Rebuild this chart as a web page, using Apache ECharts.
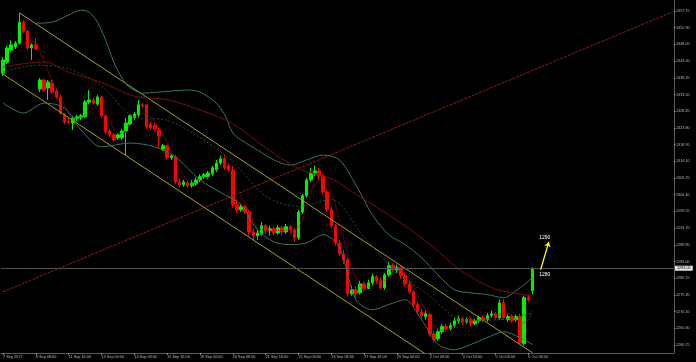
<!DOCTYPE html>
<html><head><meta charset="utf-8">
<script src="https://cdn.jsdelivr.net/npm/echarts@6/dist/echarts.min.js"></script>
<style>html,body{margin:0;padding:0;background:#000;overflow:hidden}#c{width:696px;height:362px}</style>
</head><body><div id="c"></div>
<script>
// ---- data (XAUUSD H4) ----
const candleOpen = [1339.7,1342.9,1346.4,1347.3,1348.4,1354.5,1351.9,1347.0,1347.9,1335.1,
1337.7,1335.4,1336.8,1334.5,1332.8,1327.6,1325.8,1325.2,1326.4,1326.7,
1327.0,1331.3,1331.9,1330.7,1332.8,1327.3,1322.9,1321.8,1320.9,1320.9,
1322.9,1324.9,1326.7,1327.6,1330.5,1330.5,1324.9,1324.6,1323.2,1317.7,
1318.6,1315.1,1315.4,1308.1,1307.3,1307.8,1307.0,1307.5,1308.7,1309.6,
1309.6,1310.4,1311.6,1313.6,1314.8,1312.8,1311.6,1301.5,1300.0,1300.9,
1299.4,1293.6,1292.5,1293.0,1295.4,1293.9,1294.5,1293.3,1294.8,1293.6,
1295.1,1294.2,1291.9,1299.4,1304.1,1308.7,1310.7,1311.3,1309.9,1305.2,
1300.0,1295.4,1290.4,1287.2,1285.5,1275.6,1276.8,1275.9,1278.5,1277.1,
1278.8,1280.6,1279.4,1277.4,1281.1,1283.8,1282.6,1283.2,1280.9,1278.5,
1276.2,1272.5,1270.4,1269.0,1269.6,1264.0,1262.6,1264.6,1266.1,1265.5,
1266.4,1267.8,1268.4,1267.5,1268.1,1266.9,1267.8,1268.7,1268.1,1269.3,
1269.8,1268.7,1273.0,1268.1,1269.0,1268.1,1269.0,1261.1,1274.5,1276.5];
const candleClose = [1343.5,1347.0,1347.9,1348.4,1354.5,1351.9,1347.0,1347.9,1346.7,1337.7,
1334.8,1337.1,1334.2,1332.8,1328.1,1325.5,1325.5,1326.7,1327.0,1327.3,
1331.3,1331.9,1331.0,1332.8,1327.3,1322.6,1321.8,1320.3,1321.8,1322.9,
1325.2,1327.3,1327.8,1330.5,1330.2,1324.1,1323.8,1323.5,1321.5,1318.6,
1315.1,1315.7,1308.1,1307.3,1308.1,1307.0,1307.8,1308.7,1309.6,1310.2,
1310.7,1312.2,1313.6,1314.8,1312.2,1311.6,1301.5,1300.0,1300.9,1299.4,
1293.6,1292.5,1293.3,1295.4,1293.9,1294.5,1293.3,1294.8,1293.6,1295.1,
1294.2,1291.9,1299.4,1304.1,1308.7,1310.7,1311.3,1309.9,1305.2,1300.0,
1295.4,1290.4,1287.2,1285.5,1275.6,1276.8,1275.6,1278.5,1277.1,1278.8,
1280.6,1279.4,1277.4,1281.1,1283.8,1282.6,1283.2,1280.9,1278.5,1276.2,
1272.5,1270.4,1269.3,1269.8,1264.0,1262.3,1264.6,1266.1,1265.5,1266.4,
1267.8,1268.4,1267.5,1268.1,1266.9,1267.8,1268.7,1268.1,1269.3,1269.8,
1268.7,1273.0,1268.7,1269.0,1267.8,1269.0,1261.4,1274.5,1273.9,1283.05];
const candleLow = [1338.9,1342.3,1345.8,1346.7,1348.1,1351.3,1346.4,1343.5,1346.4,1334.2,
1334.2,1331.9,1333.6,1332.2,1327.6,1324.9,1324.9,1323.2,1325.8,1326.1,
1326.7,1330.7,1330.5,1330.2,1326.7,1322.0,1321.2,1319.7,1320.3,1320.3,
1315.9,1324.4,1326.1,1327.0,1329.6,1323.5,1323.2,1322.9,1318.0,1317.1,
1314.5,1314.5,1307.5,1306.4,1306.7,1306.4,1306.4,1307.0,1308.1,1309.0,
1309.0,1309.9,1311.0,1313.0,1311.6,1311.0,1300.6,1299.1,1299.4,1298.8,
1292.5,1291.3,1291.3,1292.5,1293.0,1292.5,1292.5,1292.8,1292.5,1293.0,
1293.3,1290.7,1291.3,1298.8,1303.5,1308.1,1309.9,1308.7,1304.4,1299.4,
1294.8,1289.6,1286.7,1284.3,1274.8,1275.1,1274.8,1275.4,1276.2,1277.0,
1278.0,1278.5,1276.8,1276.8,1280.6,1282.0,1281.7,1280.0,1277.7,1275.4,
1271.6,1269.6,1268.4,1268.1,1263.2,1261.4,1262.0,1264.0,1264.6,1264.9,
1265.8,1266.9,1266.6,1266.9,1266.1,1266.4,1267.2,1267.2,1267.5,1268.7,
1268.1,1268.1,1268.1,1267.5,1267.2,1267.5,1260.9,1260.6,1273.3,1275.4];
const candleHigh = [1344.4,1347.6,1349.3,1349.0,1357.1,1355.1,1352.2,1348.4,1349.9,1338.3,
1338.0,1337.7,1337.7,1335.1,1333.4,1328.1,1326.7,1327.3,1327.6,1327.8,
1331.9,1334.8,1332.5,1333.4,1333.1,1327.6,1323.5,1322.3,1322.3,1323.5,
1326.7,1327.8,1328.4,1331.9,1331.0,1330.7,1325.5,1325.2,1323.8,1319.1,
1318.9,1316.2,1315.9,1309.0,1308.7,1308.4,1308.7,1309.3,1310.4,1310.7,
1311.3,1312.8,1314.5,1315.7,1315.9,1313.6,1312.8,1302.9,1301.7,1301.5,
1300.0,1294.5,1294.2,1296.5,1295.9,1295.4,1295.1,1295.6,1295.4,1295.9,
1295.6,1294.8,1300.0,1304.6,1309.3,1312.2,1312.8,1312.2,1310.4,1305.8,
1300.9,1295.9,1291.3,1288.4,1286.1,1278.0,1277.7,1279.4,1279.1,1279.7,
1281.4,1281.1,1280.3,1281.7,1284.9,1284.6,1284.1,1283.8,1281.7,1279.4,
1276.8,1273.3,1271.3,1270.7,1270.1,1264.9,1265.5,1266.9,1266.9,1267.2,
1268.7,1269.3,1269.0,1268.7,1268.7,1268.4,1269.3,1269.3,1270.1,1270.7,
1270.4,1273.9,1274.2,1269.6,1269.6,1269.6,1269.8,1275.1,1275.4,1283.2];

const slotCount = 164; // candles + chart shift space
const tickLabels = ['7 Sep 2017','8 Sep 08:00','11 Sep 16:00','13 Sep 00:00','14 Sep 08:00','15 Sep 16:00',
 '19 Sep 00:00','20 Sep 08:00','21 Sep 16:00','25 Sep 00:00','26 Sep 08:00','27 Sep 16:00',
 '29 Sep 00:00','2 Oct 08:00','3 Oct 16:00','5 Oct 00:00','6 Oct 08:00'];
const yTicks = [1260.75,1265.60,1270.45,1275.30,1280.15,1285.00,1289.85,1294.70,1299.55,1304.40,
 1309.25,1314.10,1318.95,1323.80,1328.65,1333.50,1338.35,1343.20,1348.05,1352.90,1357.75];
const lastPrice = 1283.05;

// indicator lines read at sample candles: [candle index, price]
const bbUpper = [[8,1354.2],[12,1354.5],[16,1356.6],[19,1358.0],[21,1357.4],[23,1354.5],[25,1349.3],[27,1342.9],
 [29,1338.3],[31,1335.4],[34,1333.9],[38,1334.2],[45,1334.8],[48,1334.2],[52,1331.0],[54,1327.6],[56,1322.3],
 [58,1320.3],[62,1317.4],[66,1314.5],[70,1313.0],[74,1314.5],[78,1315.9],[82,1314.5],[86,1307.2],[90,1298.6],
 [94,1292.8],[98,1289.9],[102,1286.1],[106,1281.1],[110,1276.8],[114,1275.9],[118,1275.4],[122,1274.5],[126,1277.4],[129,1280.3]];
const bbLower = [[0,1331.0],[5,1328.1],[10,1331.0],[15,1329.6],[19,1323.2],[24,1318.3],[31,1319.4],[37,1318.3],
 [42,1315.4],[48,1308.7],[54,1304.4],[58,1301.5],[62,1294.2],[66,1290.7],[70,1289.9],[74,1290.4],[78,1292.8],
 [82,1289.0],[86,1273.9],[90,1271.0],[94,1272.5],[98,1273.9],[102,1268.1],[106,1260.9],[110,1259.4],[114,1260.9],
 [118,1262.9],[122,1264.6],[126,1262.9],[129,1260.9]];
const bbMiddle = [[0,1340],[8,1342],[16,1341],[24,1336],[32,1327],[40,1326],[48,1321],[56,1314],[64,1304],
 [72,1301],[80,1303],[88,1292],[96,1282],[104,1275],[112,1268],[120,1268],[129,1270]];
const maFast = [[4,1346],[6,1349],[8,1348.5],[10,1343],[12,1337.5],[14,1333],[16,1328],[18,1326.5],[20,1327.5],
 [22,1329.5],[24,1330.5],[26,1326],[28,1322],[30,1322.5],[32,1325],[34,1328],[36,1327],[38,1324],[40,1319.5],
 [42,1314],[44,1310],[46,1307.5],[48,1308],[50,1309.5],[52,1311.5],[54,1313],[56,1309],[58,1304],[60,1299],
 [62,1295],[64,1294],[66,1294],[68,1294],[70,1294.3],[72,1295],[74,1301],[76,1307.5],[78,1309],[80,1305],
 [82,1297],[84,1287],[86,1280],[88,1277],[90,1278],[92,1279],[94,1280],[96,1282],[98,1281.5],[100,1278],
 [102,1273],[104,1268.5],[106,1265],[108,1265],[110,1266.5],[112,1267.5],[114,1267.8],[116,1268],[118,1268.4],
 [120,1269],[122,1270],[124,1269.5],[126,1267],[128,1268],[129,1271]];
const maSlow = [[0,1341.5],[10,1343],[16,1340],[24,1337],[32,1333],[40,1332],[48,1329],[56,1325],[64,1318],
 [72,1312],[80,1309],[88,1303],[96,1297],[104,1290],[112,1282],[120,1277],[129,1275]];
const channelUpper = [[4,1357.2],[129,1258.5]];
const channelLower = [[0,1339.4],[103,1258.1]];
const trendLine = [[0,1276.2],[163,1357.4]];
const arrowFrom = [130.6,1282.6], arrowTo = [133,1290.7];
const notes = [{text:'1290', at:[132,1291.8]},{text:'1280', at:[132,1281.1]}];

// ---- chart ----
const cats = Array.from({length: slotCount}, (_, i) => String(i));
const candles = cats.map((_, i) => i < candleOpen.length ? [candleOpen[i], candleClose[i], candleLow[i], candleHigh[i]] : '-');
const isTick = (i) => i % 8 === 0 && (i / 8) < tickLabels.length;
const fontFam = 'Liberation Sans, Arial, sans-serif';

function lineSeries(data, color, type, width, smooth) {
  return {type:'line', data, showSymbol:false, symbol:'none', smooth: smooth ? 0.3 : false, silent:true,
    lineStyle:{color, width: width || 1, type: type || 'solid'}, z: 3, animation:false};
}

const chart = echarts.init(document.getElementById('c'), null, {renderer:'canvas'});
chart.setOption({
  backgroundColor:'#000',
  animation:false,
  grid:{left:-1.56, right:22, top:0, bottom:9, containLabel:false},
  xAxis:{type:'category', data:cats, boundaryGap:true,
    axisLine:{show:true, lineStyle:{color:'#5a5a5a', width:1}},
    axisTick:{show:true, alignWithLabel:true, interval:(i)=>isTick(i), length:2, lineStyle:{color:'#8a8a8a'}},
    axisLabel:{show:true, interval:(i)=>isTick(i), formatter:(v, i)=> tickLabels[i/8] || '', align:'left',
      color:'#b8b8b8', fontSize:3.8, fontFamily:fontFam, margin:2},
    splitLine:{show:false}},
  yAxis:{type:'value', position:'right', min:1258.43, max:1360.94, scale:true,
    axisLine:{show:true, lineStyle:{color:'#5a5a5a'}},
    axisTick:{show:true, customValues:yTicks, length:1.5, lineStyle:{color:'#8a9aa8'}},
    axisLabel:{show:true, customValues:yTicks, formatter:(v)=>v.toFixed(2), color:'#a9b8c6', fontSize:3.8, fontFamily:fontFam, margin:2},
    splitLine:{show:false}},
  series:[
    lineSeries(trendLine, '#8c1c1c', [3,1], 1),
    lineSeries(channelUpper, '#a5a020', 'solid', 1),
    lineSeries(channelLower, '#a5a020', 'solid', 1),
    lineSeries(bbUpper, '#3a735a', 'solid', 1, true),
    lineSeries(bbLower, '#3a735a', 'solid', 1, true),
    lineSeries(bbMiddle, '#24513a', [2,2], 1, true),
    lineSeries(maSlow, '#7a0d0d', 'solid', 1, true),
    lineSeries(maFast, '#b01010', [1,1], 1, true),
    {type:'candlestick', data:candles, barWidth:3, z:2, silent:true,
      itemStyle:{color:'#00f000', color0:'#ff0000', borderColor:'#00f000', borderColor0:'#ff0000', borderWidth:1},
      markLine:{silent:true, symbol:'none', animation:false,
        data:[{yAxis:lastPrice}],
        lineStyle:{color:'#505050', width:1, type:'solid'},
        label:{show:true, position:'end', distance:1, formatter:()=>lastPrice.toFixed(2),
          backgroundColor:'#e6e6e6', color:'#000', fontSize:3.8, fontFamily:fontFam, padding:[0.5,2]}}},
    {type:'line', data:[], silent:true,
      markLine:{silent:true, animation:false, symbol:['none','arrow'], symbolSize:5,
        lineStyle:{color:'#ffff00', width:1.3, type:'solid'}, label:{show:false},
        data:[[{coord:arrowFrom},{coord:arrowTo}]]},
      markPoint:{silent:true, animation:false, symbol:'circle', symbolSize:0,
        label:{show:true, color:'#ffffff', fontSize:5, fontFamily:fontFam, formatter:(p)=>p.name},
        data: notes.map(n => ({name:n.text, coord:n.at}))}}
  ]
});
</script></body></html>
